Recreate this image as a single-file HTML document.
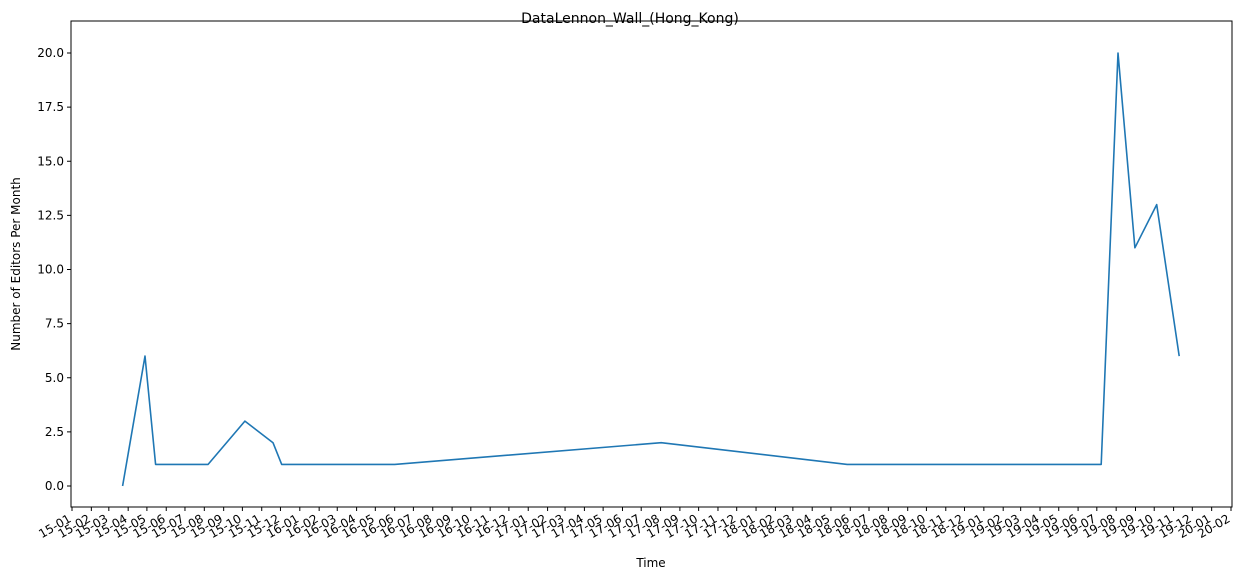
<!DOCTYPE html>
<html><head><meta charset="utf-8">
<style>
body{margin:0;background:#fff;}
svg{display:block;font-family:"DejaVu Sans","Liberation Sans",sans-serif;}
</style></head>
<body>
<svg id="chart" width="1242" height="579">
<rect x="0" y="0" width="1242" height="579" fill="#fff"/>
<text x="630" y="23" text-anchor="middle" font-size="14">DataLennon_Wall_(Hong_Kong)</text>
<text x="651" y="567" text-anchor="middle" font-size="12">Time</text>
<text transform="translate(20,264) rotate(-90)" text-anchor="middle" font-size="12">Number of Editors Per Month</text>
<g id="plot"></g>
</svg>
<script>
const dates=["2015-03-23","2015-04-28","2015-05-15","2015-08-07","2015-10-05","2015-11-19","2015-12-03","2016-06-01","2017-08-02","2018-05-27","2019-07-08","2019-08-04","2019-08-31","2019-10-05","2019-11-10"];
const values=[0,6,1,1,3,2,1,1,2,1,1,20,11,13,6];
const yTicks=[0,2.5,5,7.5,10,12.5,15,17.5,20];
const yTickLabels=["0.0","2.5","5.0","7.5","10.0","12.5","15.0","17.5","20.0"];

const L=71,R=1232,T=21,B=507;
const t0=Date.UTC(2015,0,1),t1=Date.UTC(2020,1,1);
const x0=72,x1=1231;
function xs(ms){return x0+(ms-t0)/(t1-t0)*(x1-x0);}
function ys(v){return 486-v*(486-53)/20;}
function pd(s){const p=s.split('-');return Date.UTC(+p[0],+p[1]-1,+p[2]);}
const NS="http://www.w3.org/2000/svg";
const g=document.getElementById('plot');
function mk(tag,attrs){const e=document.createElementNS(NS,tag);for(const k in attrs)e.setAttribute(k,attrs[k]);g.appendChild(e);return e;}

const frame=mk('rect',{x:L,y:T,width:R-L,height:B-T,fill:'none',stroke:'#000','stroke-width':1});



yTicks.forEach((v,i)=>{
  const y=ys(v);
  const tk=mk('line',{x1:L-4,x2:L,y1:y,y2:y,stroke:'#000'});
  
  
  const tx=mk('text',{x:L-7,y:y+4,'text-anchor':'end','font-size':'12'});
  tx.textContent=yTickLabels[i];
  
  
});

for(let m=0;m<=61;m++){
  const yr=2015+Math.floor(m/12),mo=m%12;
  const x=xs(Date.UTC(yr,mo,1));
  const tk=mk('line',{x1:x,x2:x,y1:B,y2:B+4,stroke:'#000'});
  
  
  const lab=String(yr%100).padStart(2,'0')+'-'+String(mo+1).padStart(2,'0');
  const tx=mk('text',{x:x,y:B+14,'text-anchor':'end','font-size':'12',transform:`rotate(-30 ${x} ${B+14})`});
  tx.textContent=lab;
  
  
}

const pts=dates.map((d,i)=>xs(pd(d)).toFixed(1)+','+ys(values[i]).toFixed(1)).join(' ');
const line=mk('polyline',{points:pts,fill:'none',stroke:'#1f77b4','stroke-width':1.6,'stroke-linejoin':'round'});


</script>
</body></html>
